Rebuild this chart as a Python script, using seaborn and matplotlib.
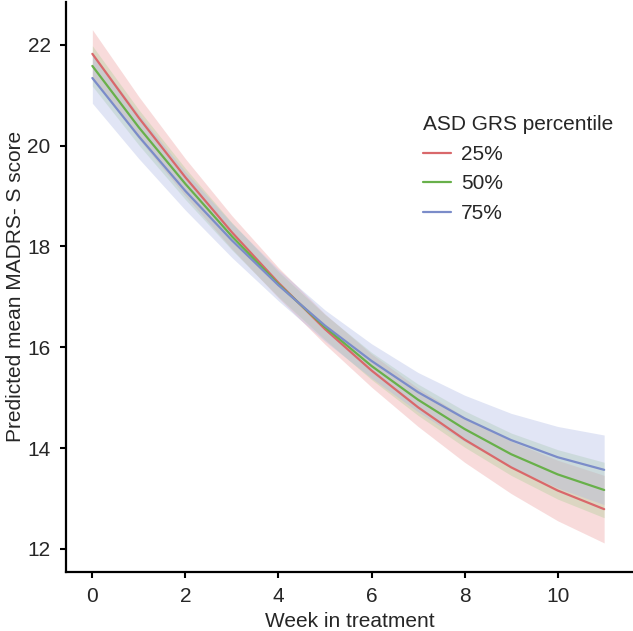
import matplotlib
matplotlib.use("Agg")
import matplotlib.pyplot as plt
import seaborn as sns
import pandas as pd
import numpy as np

# Values (week 0..11)
weeks = [0, 1, 2, 3, 4, 5, 6, 7, 8, 9, 10, 11]
groups = ["25%", "50%", "75%"]
pred_25 = [21.82, 20.55, 19.37, 18.28, 17.28, 16.36, 15.54, 14.81, 14.17, 13.62, 13.16, 12.79]
pred_50 = [21.58, 20.36, 19.24, 18.20, 17.25, 16.40, 15.63, 14.96, 14.38, 13.88, 13.48, 13.17]
pred_75 = [21.34, 20.18, 19.10, 18.12, 17.23, 16.43, 15.73, 15.11, 14.59, 14.16, 13.82, 13.57]
# half width of the confidence band
ci_25 = [0.48, 0.42, 0.37, 0.33, 0.30, 0.30, 0.33, 0.38, 0.45, 0.52, 0.60, 0.67]
ci_50 = [0.40, 0.35, 0.31, 0.27, 0.25, 0.25, 0.27, 0.31, 0.36, 0.42, 0.49, 0.55]
ci_75 = [0.50, 0.44, 0.38, 0.34, 0.31, 0.31, 0.34, 0.39, 0.46, 0.53, 0.61, 0.69]

colors = {"25%": "#d9686b", "50%": "#68b04a", "75%": "#7b8cc9"}
band_colors = {"25%": "#eb9a9a", "50%": "#a8cf94", "75%": "#a9b5e3"}

preds = {"25%": pred_25, "50%": pred_50, "75%": pred_75}
cis = {"25%": ci_25, "50%": ci_50, "75%": ci_75}

rows = []
for g in groups:
    for w, p, c in zip(weeks, preds[g], cis[g]):
        rows.append({"week": w, "score": p, "lo": p - c, "hi": p + c, "group": g})
df = pd.DataFrame(rows)

sns.set_style("ticks")
plt.rcParams["font.family"] = ["Liberation Sans", "DejaVu Sans"]

fig = plt.figure(figsize=(6.33, 6.31), dpi=100)
ax = fig.add_axes([0.104, 0.094, 0.896, 0.903])

for g in groups:
    sub = df[df["group"] == g]
    ax.fill_between(sub["week"], sub["lo"], sub["hi"], color=band_colors[g],
                    alpha=0.35, linewidth=0)

sns.lineplot(data=df, x="week", y="score", hue="group", palette=colors,
             linewidth=1.6, ax=ax)

ax.set_xlim(-0.57, 11.62)
ax.set_ylim(11.55, 22.85)
ax.set_xticks([0, 2, 4, 6, 8, 10])
ax.set_yticks([12, 14, 16, 18, 20, 22])
ax.set_xlabel("Week in treatment", fontsize=15, labelpad=4)
ax.set_ylabel("Predicted mean MADRS- S score", fontsize=15, labelpad=2)
ax.tick_params(labelsize=15, width=1.5, length=4, pad=7, color="black")
for s in ["top", "right"]:
    ax.spines[s].set_visible(False)
for s in ["left", "bottom"]:
    ax.spines[s].set_linewidth(1.6)
    ax.spines[s].set_color("black")

leg = ax.legend(title="ASD GRS percentile", loc="upper left",
                bbox_to_anchor=(0.612, 0.82), frameon=False, fontsize=15,
                title_fontsize=15, handlelength=1.35, handletextpad=0.45,
                labelspacing=0.5, borderpad=0)
leg._legend_box.align = "left"
leg._legend_box.sep = 8

fig.savefig("out.png", dpi=100)
